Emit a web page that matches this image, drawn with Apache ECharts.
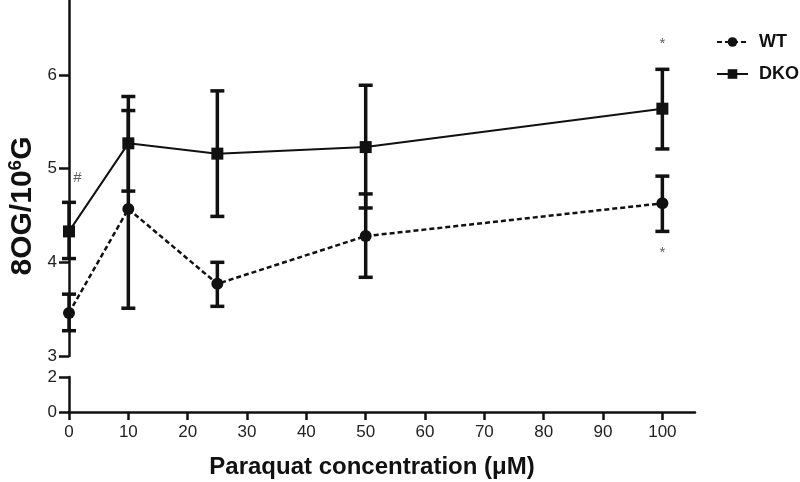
<!DOCTYPE html>
<html>
<head>
<meta charset="utf-8">
<script src="https://cdn.jsdelivr.net/npm/echarts@6/dist/echarts.min.js"></script>
<style>
html,body{margin:0;padding:0;background:#fff;}
#chart{width:800px;height:482px;}
</style>
</head>
<body>
<div id="chart"></div>
<script>
// ---- data ----
const concentrations = [0, 10, 25, 50, 100];
const wtMean = [3.46, 4.57, 3.77, 4.28, 4.63];
const wtLow  = [3.27, 3.51, 3.53, 3.84, 4.33];
const wtHigh = [3.66, 5.62, 4.00, 4.73, 4.92];
const dkoMean = [4.33, 5.27, 5.16, 5.23, 5.64];
const dkoLow  = [4.04, 4.76, 4.49, 4.58, 5.21];
const dkoHigh = [4.64, 5.77, 5.83, 5.89, 6.06];
const xTickValues = [0, 10, 20, 30, 40, 50, 60, 70, 80, 90, 100];
const yUpperTicks = [3, 4, 5, 6];
const yLowerTicks = [0, 2];
const annotX = [1.4, 100, 100];
const annotY = [4.9, 6.33, 4.1];
const annotText = ['#', '*', '*'];
const seriesNames = ['WT', 'DKO'];

const chart = echarts.init(document.getElementById('chart'), null, {renderer: 'canvas'});
const FONT = 'Liberation Sans, Arial, sans-serif';
const INK = '#111';

function errorSeries(name, low, high) {
  return {
    type: 'custom',
    name: name + ' err',
    xAxisIndex: 0, yAxisIndex: 0,
    z: 3,
    silent: true,
    data: concentrations.map((x, i) => [x, low[i], high[i]]),
    renderItem: function (params, api) {
      const lo = api.coord([api.value(0), api.value(1)]);
      const hi = api.coord([api.value(0), api.value(2)]);
      const hw = 7;
      const st = {stroke: INK, lineWidth: 3.5};
      return {
        type: 'group',
        children: [
          {type: 'line', shape: {x1: lo[0], y1: lo[1], x2: hi[0], y2: hi[1]}, style: st},
          {type: 'line', shape: {x1: lo[0] - hw, y1: lo[1], x2: lo[0] + hw, y2: lo[1]}, style: st},
          {type: 'line', shape: {x1: hi[0] - hw, y1: hi[1], x2: hi[0] + hw, y2: hi[1]}, style: st}
        ]
      };
    }
  };
}

const option = {
  backgroundColor: '#fff',
  animation: false,
  legend: {
    data: seriesNames,
    orient: 'vertical',
    left: 711, top: 28,
    itemWidth: 31, itemHeight: 12,
    itemGap: 14,
    textStyle: {fontFamily: FONT, fontWeight: 'bold', fontSize: 18, color: INK, padding: [0, 0, 0, 6]}
  },
  grid: [
    {left: 69, top: 0, width: 626, height: 356},
    {left: 69, top: 377, width: 626, height: 35}
  ],
  xAxis: [
    {gridIndex: 0, type: 'value', min: 0, max: 105.5, show: false, splitLine: {show: false}},
    {gridIndex: 1, type: 'value', min: 0, max: 105.5,
      axisLine: {show: true, lineStyle: {color: INK, width: 2.5}},
      axisTick: {show: true, length: 8, lineStyle: {color: INK, width: 2.5}, customValues: xTickValues},
      axisLabel: {fontFamily: FONT, fontSize: 17, color: '#222', margin: 12, customValues: xTickValues},
      splitLine: {show: false}}
  ],
  yAxis: [
    {gridIndex: 0, type: 'value', min: 3, max: 6.8,
      axisLine: {show: true, lineStyle: {color: INK, width: 2.5}},
      axisTick: {show: true, length: 10, lineStyle: {color: INK, width: 2.5}, customValues: yUpperTicks},
      axisLabel: {fontFamily: FONT, fontSize: 17, color: '#222', margin: 12, customValues: yUpperTicks},
      splitLine: {show: false}},
    {gridIndex: 1, type: 'value', min: 0, max: 2,
      axisLine: {show: true, lineStyle: {color: INK, width: 2.5}},
      axisTick: {show: true, length: 10, lineStyle: {color: INK, width: 2.5}, customValues: yLowerTicks},
      axisLabel: {fontFamily: FONT, fontSize: 17, color: '#222', margin: 12, customValues: yLowerTicks},
      splitLine: {show: false}}
  ],
  graphic: [
    {type: 'text', x: 372, y: 467,
      style: {text: 'Paraquat concentration (μM)', font: 'bold 24px ' + FONT, fill: INK, align: 'center', verticalAlign: 'middle'}},
    {type: 'text', x: 22, y: 206, rotation: Math.PI / 2,
      style: {text: '{a|8OG/10}{s|6}{a|G}', fill: INK, align: 'center', verticalAlign: 'middle',
        rich: {
          a: {font: 'bold 30px ' + FONT, fill: INK, verticalAlign: 'bottom'},
          s: {font: 'bold 19px ' + FONT, fill: INK, verticalAlign: 'top', padding: [0, 0, 12, 0]}
        }}}
  ],
  series: [
    errorSeries('WT', wtLow, wtHigh),
    errorSeries('DKO', dkoLow, dkoHigh),
    {type: 'line', name: 'WT', xAxisIndex: 0, yAxisIndex: 0, z: 4,
      data: concentrations.map((x, i) => [x, wtMean[i]]),
      symbol: 'circle', symbolSize: 12, showAllSymbol: true,
      itemStyle: {color: INK},
      lineStyle: {color: INK, width: 2.5, type: [5, 3]}},
    {type: 'line', name: 'DKO', xAxisIndex: 0, yAxisIndex: 0, z: 4,
      data: concentrations.map((x, i) => [x, dkoMean[i]]),
      symbol: 'rect', symbolSize: 12, showAllSymbol: true,
      itemStyle: {color: INK},
      lineStyle: {color: INK, width: 2, type: 'solid'}},
    {type: 'scatter', name: 'annot', xAxisIndex: 0, yAxisIndex: 0, symbolSize: 0, silent: true,
      data: annotX.map((x, i) => ({value: [x, annotY[i]], name: annotText[i]})),
      label: {show: true, position: 'inside', formatter: p => p.name,
        fontFamily: FONT, fontSize: 15, color: '#333'}}
  ]
};
chart.setOption(option);
</script>
</body>
</html>
